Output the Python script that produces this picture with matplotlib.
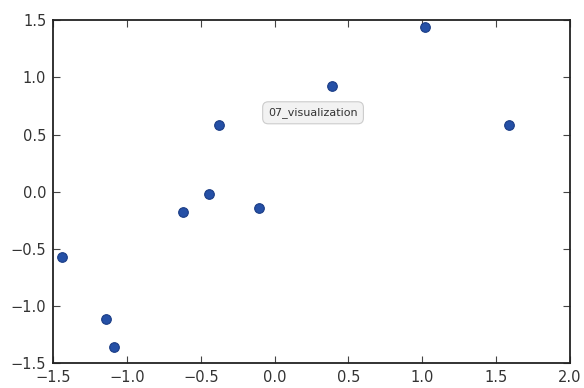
import matplotlib
matplotlib.use("Agg")
from matplotlib import pyplot as plt

# scatter points
x = [-1.44, -1.143, -1.085, -0.618, -0.444, -0.105, -0.376, 0.389, 1.021, 1.587]
y = [-0.57, -1.113, -1.358, -0.182, -0.016, -0.139, 0.587, 0.925, 1.44, 0.587]
label = "07_visualization"
xticks = [-1.5, -1.0, -0.5, 0.0, 0.5, 1.0, 1.5, 2.0]
yticks = [-1.5, -1.0, -0.5, 0.0, 0.5, 1.0, 1.5]

plt.rcParams["font.family"] = ["DejaVu Sans"]
fig = plt.figure(figsize=(5.84, 3.88), dpi=100)
ax = fig.add_axes([0.091, 0.064, 0.885, 0.884])

ax.scatter(x, y, s=48, color="#2550a6", edgecolors="#1a3c85", linewidths=0.8, zorder=3)

ax.text(0.26, 0.69, label, ha="center", va="center", fontsize=8, color="#333333",
	bbox=dict(boxstyle="round,pad=0.5", facecolor="#f2f2f2", edgecolor="#cccccc", linewidth=0.8))

ax.set_xlim(-1.5, 2.0)
ax.set_ylim(-1.5, 1.5)
ax.set_xticks(xticks)
ax.set_yticks(yticks)
ax.set_xticklabels(["\u22121.5", "\u22121.0", "\u22120.5", "0.0", "0.5", "1.0", "1.5", "2.0"])
ax.set_yticklabels(["\u22121.5", "\u22121.0", "\u22120.5", "0.0", "0.5", "1.0", "1.5"])
ax.tick_params(direction="in", top=True, right=True, length=5, width=0.8,
	labelsize=10.5, colors="#444444", labelcolor="#333333", pad=5)
for sp in ax.spines.values():
	sp.set_linewidth(1.3)
	sp.set_color("#222222")

fig.savefig("out.png", dpi=100)
